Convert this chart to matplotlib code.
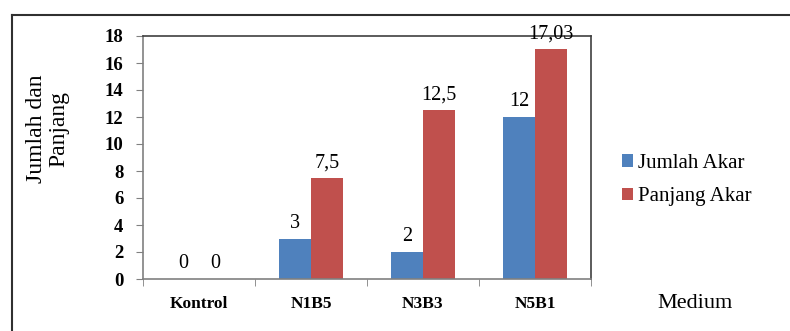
import matplotlib
matplotlib.use("Agg")
import matplotlib.pyplot as plt
import numpy as np
from matplotlib.lines import Line2D

categories = ["Kontrol", "N1B5", "N3B3", "N5B1"]
jumlah_akar = [0, 3, 2, 12]
panjang_akar = [0, 7.5, 12.5, 17.03]
jumlah_labels = ["0", "3", "2", "12"]
panjang_labels = ["0", "7,5", "12,5", "17,03"]
yticks = [0, 2, 4, 6, 8, 10, 12, 14, 16, 18]

plt.rcParams['font.family'] = ['Liberation Serif', 'DejaVu Serif']

fig = plt.figure(figsize=(7.9, 3.31), dpi=100)
ax = fig.add_axes([143/790, 1-279/331, 448/790, 243/331])

x = np.arange(len(categories))
w = 0.286
b1 = ax.bar(x - w/2, jumlah_akar, w, color="#4F81BD", label="Jumlah Akar")
b2 = ax.bar(x + w/2, panjang_akar, w, color="#C0504D", label="Panjang Akar")
ax.bar_label(b1, labels=jumlah_labels, padding=4, fontsize=14.5)
ax.bar_label(b2, labels=panjang_labels, padding=4, fontsize=14.5)

ax.set_xlim(-0.5, len(categories) - 0.5)
ax.set_ylim(0, 18)
ax.set_yticks(yticks)
ax.set_yticklabels([str(v) for v in yticks], fontsize=13.5, fontweight='bold')
ax.set_xticks(x)
ax.set_xticklabels(categories, fontsize=12.5, fontweight='bold')
ax.tick_params(axis='x', which='major', length=0, pad=12)
ax.set_xticks(np.arange(len(categories) + 1) - 0.5, minor=True)
ax.tick_params(axis='x', which='minor', length=5, color='#808080')
ax.tick_params(axis='y', length=5, color='#808080', pad=9)
for s in ax.spines.values():
    s.set_color('#404040')
    s.set_linewidth(1.2)
ax.spines['left'].set_color('#808080')
ax.spines['bottom'].set_color('#808080')

fig.text(48/790, 1-129/331, "Jumlah dan\nPanjang", fontsize=17, rotation=90,
         ha='center', va='center', linespacing=1.1, multialignment='center')

leg = fig.legend(handles=[b1, b2], loc='upper left', bbox_to_anchor=(622/790, 1-154/331),
                 frameon=False, fontsize=15, handlelength=0.53, handleheight=0.53,
                 handletextpad=0.25, labelspacing=0.68, borderpad=0, borderaxespad=0)

fig.text(695/790, 1-304/331, "Medium", fontsize=16, ha='center', va='center')

# outer frame
fig.add_artist(Line2D([12/790, 12/790], [0, 1-15/331], color='#303030', lw=1.5, transform=fig.transFigure))
fig.add_artist(Line2D([12/790, 1], [1-15/331, 1-15/331], color='#303030', lw=1.5, transform=fig.transFigure))

fig.savefig("out.png", dpi=100)
